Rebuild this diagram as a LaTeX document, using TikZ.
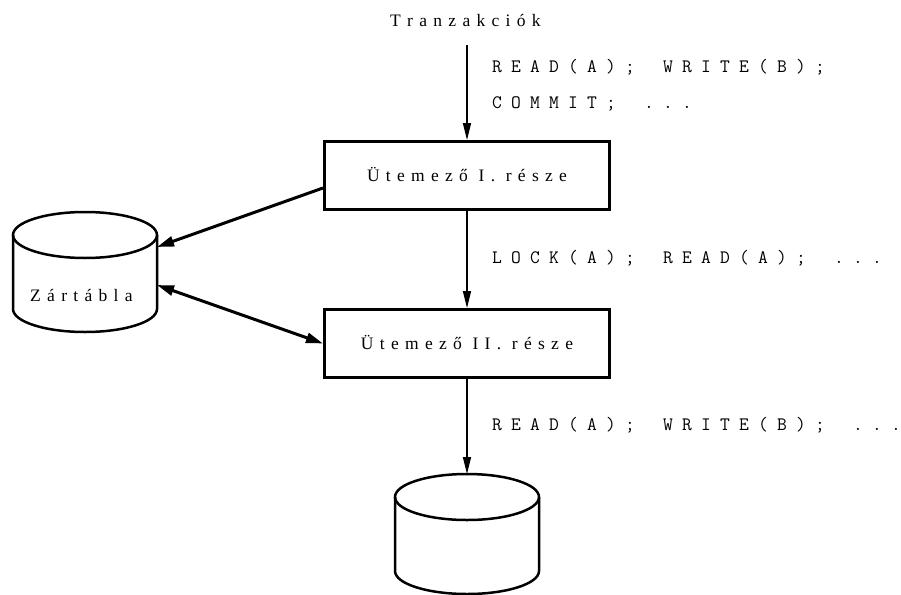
\documentclass[tikz,border=0pt]{standalone}
\usepackage{fontspec}
\setmainfont{Liberation Serif}
\usetikzlibrary{arrows.meta}
% letter-spaced serif text: ~ stands for a word space
\newcommand\lspk{6.3pt}
\newcommand\lspsp{4.4pt}
\def\lsp#1{\lsploop#1\relax}
\def\lsploop#1{\ifx\relax#1\unkern\else\ifx~#1\kern\lspsp\relax\else#1\kern\lspk\relax\fi\expandafter\lsploop\fi}
% fixed-pitch mono text
\newlength\monoadv \setlength\monoadv{19pt}
\def\mono#1{\monoloop#1\relax}
\def\monoloop#1{\ifx\relax#1\else\makebox[\monoadv][l]{#1}\expandafter\monoloop\fi}
\begin{document}
\begin{tikzpicture}[x=1pt,y=-1pt,
  lbl/.style={font=\fontsize{17.5}{20}\selectfont, inner sep=0pt},
  code/.style={font=\ttfamily\fontsize{19}{21}\selectfont, inner sep=0pt, anchor=base west},
  stepbox/.style={draw, line width=3pt, minimum width=285pt, minimum height=68pt,
    inner sep=0pt, text height=11pt, text depth=0pt, font=\fontsize{17.5}{20}\selectfont},
  cylbody/.style={inner sep=0pt, outer sep=0pt, minimum width=144pt, minimum height=120pt},
  cylline/.style={line width=2.5pt},
  flow/.style={line width=1.6pt, -{Triangle[length=17pt,width=8pt]}},
  lockflow/.style={line width=3pt, -{Triangle[length=17pt,width=10pt]}},
  lockboth/.style={line width=3pt, {Triangle[length=17pt,width=10pt]}-{Triangle[length=17pt,width=10pt]}}
]
\useasboundingbox (0,0) rectangle (901,594);

% texts
\node[lbl, anchor=base west] (tr) at (390,27) {\lsp{Tranzakciók}};
\node[code] (c1) at (492,72) {\mono{READ(A);~WRITE(B);}};
\node[code] (c2) at (492,108) {\mono{COMMIT;~...}};
\node[code] (c3) at (492,263) {\mono{LOCK(A);~READ(A);~...}};
\node[code] (c4) at (492,430) {\mono{READ(A);~WRITE(B);~...}};

% boxes
\node[stepbox] (b1) at (467,175.5) {\lsp{Ütemező~I.~része}};
\node[stepbox] (b2) at (467,343.5) {\lsp{Ütemező~II.~része}};

% cylinders
\node[cylbody] (zt) at (85,272) {};
\node[cylbody] (db) at (467,534) {};
\node[lbl, anchor=base west] (ztl) at (30,301) {\lsp{Zártábla}};

\foreach \c in {zt,db}{
  \draw[cylline] ([yshift=-23pt]\c.north west) -- ([yshift=23pt]\c.south west)
     arc[start angle=180, end angle=360, x radius=72pt, y radius=23pt]
     -- ([yshift=-23pt]\c.north east);
  \draw[cylline] ([yshift=-23pt]\c.north) ellipse[x radius=72pt, y radius=23pt];
}

% connectors
\draw[flow] ([yshift=-18pt]tr.base -| b1.north) -- (b1.north);
\draw[flow] (b1.south) -- (b2.north);
\draw[flow] (b2.south) -- (db.north);
\draw[lockflow] ([yshift=-12.5pt]b1.west) -- ([yshift=25pt]zt.east);
\draw[lockboth] ([yshift=-13pt]zt.east) -- (b2.west);
\end{tikzpicture}
\end{document}
